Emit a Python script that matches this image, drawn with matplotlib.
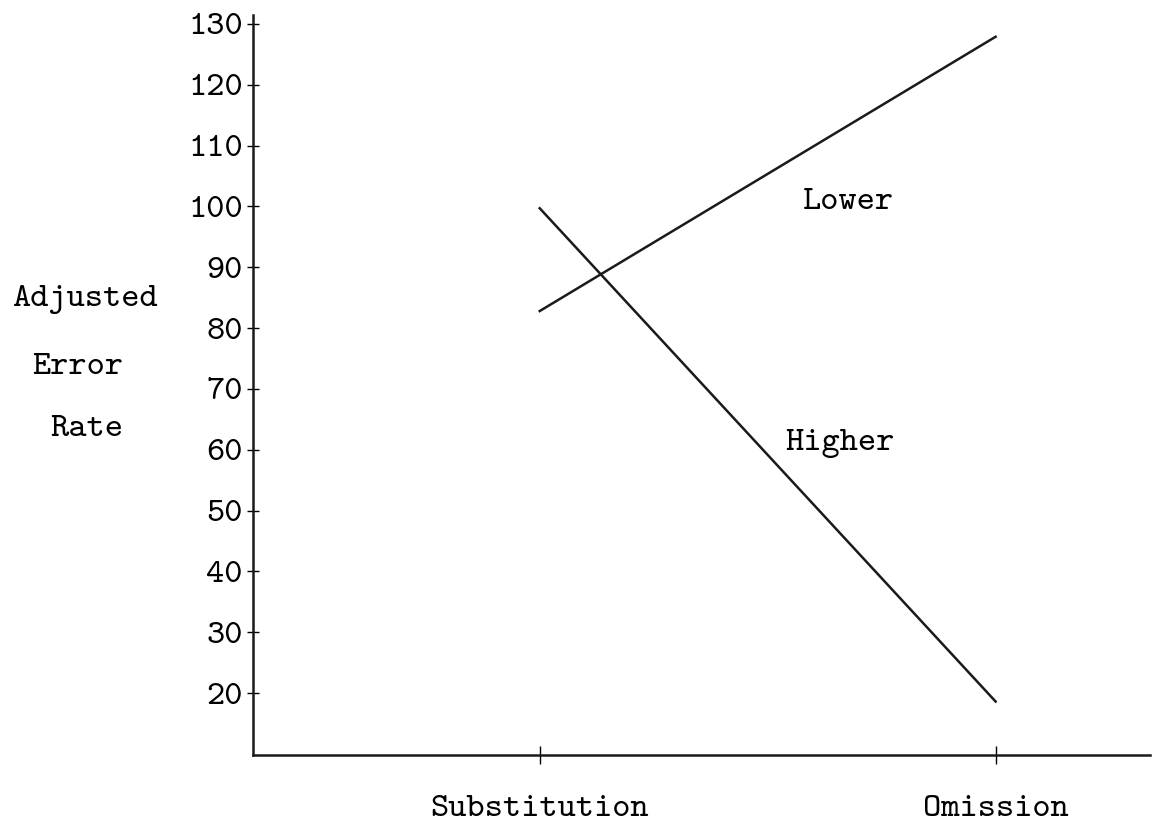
import matplotlib
matplotlib.use("Agg")
import matplotlib.pyplot as plt

# data
conditions = ["Substitution", "Omission"]
cond_x = [1, 2]
lower = [82.8, 127.9]
higher = [99.7, 18.6]
yticks = [20, 30, 40, 50, 60, 70, 80, 90, 100, 110, 120, 130]

# typewriter look: matplotlib's bundled Computer Modern typewriter font
plt.rcParams['font.family'] = ['cmtt10', 'DejaVu Sans Mono']
plt.rcParams['axes.unicode_minus'] = False
fs = 25

fig = plt.figure(figsize=(11.52, 8.25), dpi=100)
ax = fig.add_axes([0.2196, 0.0848, 0.7784, 0.8972])

ax.plot(cond_x, lower, color='#1a1a1a', lw=1.8)
ax.plot(cond_x, higher, color='#1a1a1a', lw=1.8)

ax.text(1.678, 100.7, "Lower", fontsize=fs, ha='center', va='center')
ax.text(1.658, 61.1, "Higher", fontsize=fs, ha='center', va='center')

ax.set_xlim(0.371, 2.338)
ax.set_ylim(9.8, 131.5)
ax.set_yticks(yticks)
ax.set_xticks(cond_x)
ax.set_xticklabels(conditions)

for s in ['top', 'right']:
    ax.spines[s].set_visible(False)
for s in ['left', 'bottom']:
    ax.spines[s].set_linewidth(1.8)
    ax.spines[s].set_color('#1a1a1a')

ax.tick_params(axis='y', direction='inout', length=8.5, width=1, pad=3,
               labelsize=fs)
ax.tick_params(axis='x', direction='inout', length=13, width=1, pad=22,
               labelsize=fs)

# stacked y label, typed to the left of the axis
fig.text(12 / 1152, 1 - 300 / 825, "Adjusted", fontsize=fs, ha='left', va='center')
fig.text(32 / 1152, 1 - 367 / 825, "Error", fontsize=fs, ha='left', va='center')
fig.text(50 / 1152, 1 - 430 / 825, "Rate", fontsize=fs, ha='left', va='center')

fig.savefig("out.png", dpi=100)
